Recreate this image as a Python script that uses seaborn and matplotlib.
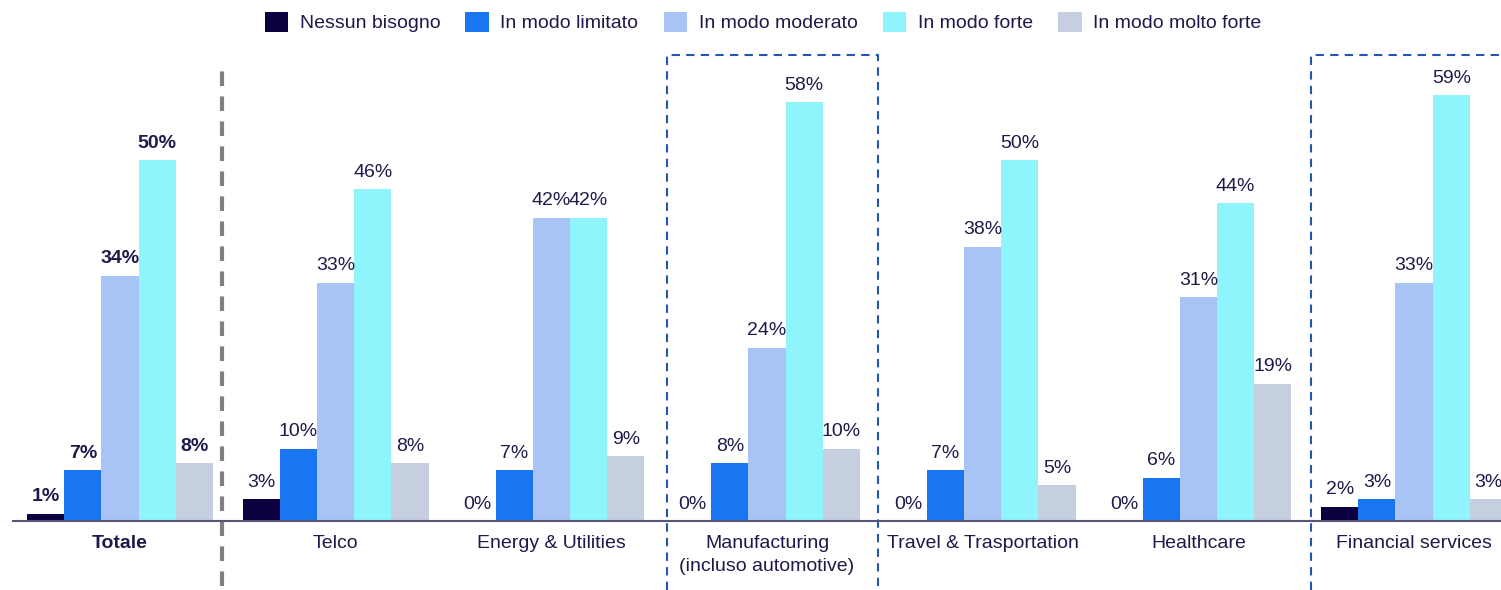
import pandas as pd
import seaborn as sns
import matplotlib.pyplot as plt

# categories and levels
settori = ["Totale", "Telco", "Energy & Utilities", "Manufacturing\n(incluso automotive)",
           "Travel & Trasportation", "Healthcare", "Financial services"]
livelli = ["Nessun bisogno", "In modo limitato", "In modo moderato", "In modo forte", "In modo molto forte"]

nessun_bisogno = [1, 3, 0, 0, 0, 0, 2]
modo_limitato = [7, 10, 7, 8, 7, 6, 3]
modo_moderato = [34, 33, 42, 24, 38, 31, 33]
modo_forte = [50, 46, 42, 58, 50, 44, 59]
modo_molto_forte = [8, 8, 9, 10, 5, 19, 3]

colori = ["#0d0040", "#1a75f0", "#a8c4f5", "#8ff4fc", "#c5cfe0"]
testo = "#1c1a4a"

rows = []
for liv, vals in zip(livelli, [nessun_bisogno, modo_limitato, modo_moderato, modo_forte, modo_molto_forte]):
    for s, v in zip(settori, vals):
        rows.append({"settore": s, "livello": liv, "valore": v})
df = pd.DataFrame(rows)

sns.set_style("white")
plt.rcParams['font.family'] = ['Liberation Sans', 'DejaVu Sans']

fig = plt.figure(figsize=(15.01, 5.90), dpi=100)
ax = fig.add_axes([13 / 1501, 69 / 590, 1 - 13 / 1501, 481 / 590])

sns.barplot(data=df, x="settore", y="valore", hue="livello", order=settori, hue_order=livelli,
            palette=colori, width=0.862, gap=0, saturation=1, linewidth=0, ax=ax, legend=True)

for cont in ax.containers:
    texts = ax.bar_label(cont, fmt="%d%%", padding=6, fontsize=14, color=testo)
    texts[0].set_fontweight("bold")

ax.set_xlim(-0.496, 6.403)
ax.set_ylim(0, 481 / 7.22)
ax.set_xlabel("")
ax.set_ylabel("")
ax.set_yticks([])
for sp in ["top", "right", "left"]:
    ax.spines[sp].set_visible(False)
ax.spines["bottom"].set_color("#55557a")
ax.spines["bottom"].set_linewidth(1.5)
ax.tick_params(axis="x", length=0, pad=10, labelsize=14, labelcolor=testo)
ax.get_xticklabels()[0].set_fontweight("bold")
for lab in ax.get_xticklabels():
    lab.set_linespacing(1.45)

# separatore grigio tra Totale e settori
ax.plot([0.473, 0.473], [-65 / 7.22, 453 / 7.22], color="#808080", lw=3,
        ls=(0, (3.5, 2.5)), clip_on=False)

# riquadri tratteggiati blu
box_y = [-69 / 7.22, 466 / 7.22]
for x0, x1 in [(2.535, 3.513), (5.524, 6.45)]:
    ax.plot([x0, x0, x1, x1], [box_y[0], box_y[1], box_y[1], box_y[0]], color="#2456b0",
            lw=1.5, ls=(0, (4, 3)), clip_on=False)

leg = ax.legend(loc="center", ncol=5, frameon=False, fontsize=14, handlelength=1.2,
                handleheight=1.2, handletextpad=0.6, columnspacing=1.3)
leg.set_bbox_to_anchor((763 / 1501, 1 - 22 / 590), transform=fig.transFigure)
for t in leg.get_texts():
    t.set_color(testo)

fig.savefig("out.png", dpi=100)
